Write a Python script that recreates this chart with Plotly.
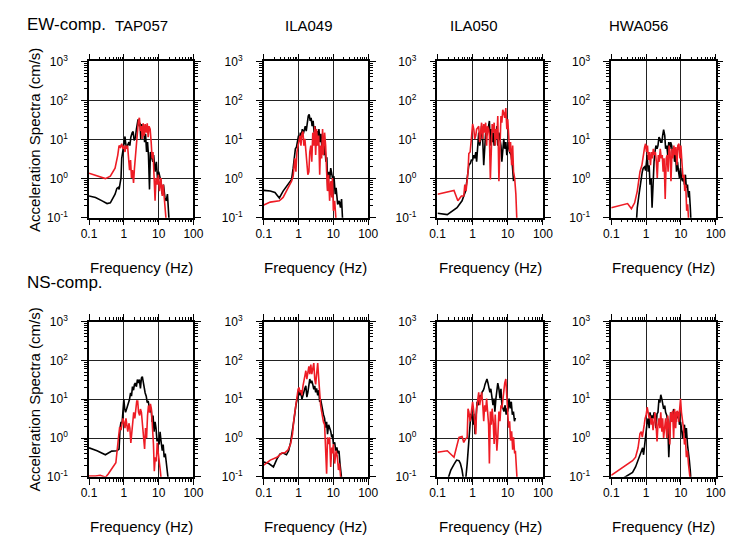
import plotly.graph_objects as go

# ---------------- DATA (frequency in Hz, spectral amplitude in cm/s) ----------------
stations = ["TAP057", "ILA049", "ILA050", "HWA056"]
components = ["EW-comp.", "NS-comp."]

x_tick_vals = [0.1, 1, 10, 100]
x_tick_text = ["0.1", "1", "10", "100"]
y_tick_vals = [0.1, 1, 10, 100, 1000]
y_tick_text = ["10<sup>-1</sup>", "10<sup>0</sup>", "10<sup>1</sup>", "10<sup>2</sup>", "10<sup>3</sup>"]

# EW TAP057
ew_tap057_blk_f = [0.1, 0.154, 0.238, 0.33, 0.41, 0.5, 0.56, 0.63, 0.7, 0.73, 0.78, 0.83, 0.87, 0.91, 0.99, 1.03, 1.08, 1.12, 1.2, 1.28, 1.4, 1.49, 1.59, 1.74, 1.85, 1.98, 2.16, 2.3, 2.45, 2.56, 2.74, 2.92, 3.06, 3.27, 3.5, 3.7, 3.95, 4.2, 4.5, 4.8, 5.1, 5.46, 5.8, 6.3, 6.8, 7.2, 7.9, 8.6, 9.4, 10.0, 10.9, 11.6, 12.7, 13.8, 15.1, 16.5, 17.9, 19.0, 20.0]
ew_tap057_blk_a = [0.36, 0.33, 0.27, 0.23, 0.24, 0.33, 0.4, 0.56, 0.6, 0.53, 0.7, 1.04, 3.3, 4.8, 7.0, 8.6, 12.0, 8.6, 5.8, 7.0, 8.6, 7.0, 11.5, 15.0, 16.0, 9.5, 11.5, 18.5, 30.0, 33.0, 22.0, 27.0, 10.4, 25.0, 15.0, 22.0, 8.6, 14.0, 4.8, 8.6, 4.0, 0.53, 4.8, 3.3, 2.7, 4.0, 1.5, 2.7, 0.86, 1.5, 1.04, 0.86, 0.4, 0.7, 0.33, 0.27, 0.4, 0.22, 0.08]
ew_tap057_red_f = [0.1, 0.295, 0.41, 0.56, 0.67, 0.73, 0.8, 0.87, 0.94, 1.0, 1.08, 1.15, 1.23, 1.28, 1.37, 1.46, 1.56, 1.66, 1.77, 1.9, 2.02, 2.16, 2.3, 2.45, 2.62, 2.8, 3.0, 3.2, 3.4, 3.6, 3.85, 4.1, 4.4, 4.7, 5.0, 5.3, 5.7, 6.1, 6.5, 6.9, 7.4, 7.9, 8.4, 9.1, 9.8, 10.6, 11.6, 12.7, 13.5, 14.4, 15.5, 16.5]
ew_tap057_red_a = [1.38, 1.0, 1.15, 1.85, 4.0, 7.0, 6.4, 7.8, 5.8, 7.0, 4.8, 7.0, 5.8, 7.0, 3.3, 1.65, 3.0, 1.04, 1.65, 0.78, 1.85, 4.0, 7.0, 22.0, 30.0, 36.0, 16.5, 22.0, 10.4, 26.0, 12.6, 25.0, 15.0, 26.0, 11.5, 22.0, 18.5, 8.6, 3.3, 4.8, 1.5, 0.27, 1.04, 0.7, 1.26, 0.48, 1.04, 0.36, 0.7, 0.27, 0.15, 0.08]

# EW ILA049
ew_ila049_blk_f = [0.1, 0.154, 0.21, 0.28, 0.36, 0.5, 0.63, 0.7, 0.75, 0.81, 0.87, 0.92, 1.0, 1.06, 1.13, 1.2, 1.28, 1.37, 1.46, 1.56, 1.66, 1.77, 1.9, 2.02, 2.16, 2.3, 2.45, 2.62, 2.8, 3.0, 3.2, 3.4, 3.6, 3.85, 4.1, 4.4, 4.7, 5.0, 5.3, 5.7, 6.1, 6.5, 6.9, 7.4, 7.9, 8.4, 9.1, 9.8, 10.4, 11.3, 12.0, 13.3, 14.7, 16.0, 17.2, 18.5]
ew_ila049_blk_a = [0.5, 0.48, 0.44, 0.32, 0.48, 0.7, 0.95, 1.85, 3.0, 5.8, 6.4, 8.6, 12.6, 10.4, 15.0, 12.6, 18.5, 14.0, 18.5, 22.0, 16.5, 27.0, 40.0, 44.0, 30.0, 36.0, 22.0, 30.0, 15.0, 22.0, 7.0, 16.5, 10.4, 18.5, 8.6, 14.0, 5.8, 10.4, 4.0, 7.0, 2.7, 3.5, 0.48, 1.5, 1.04, 1.85, 1.26, 0.86, 1.15, 0.4, 0.58, 0.22, 0.27, 0.18, 0.3, 0.08]
ew_ila049_red_f = [0.1, 0.154, 0.28, 0.36, 0.5, 0.63, 0.7, 0.75, 0.78, 0.84, 0.9, 0.97, 1.03, 1.1, 1.17, 1.25, 1.34, 1.42, 1.52, 1.62, 1.73, 1.85, 1.98, 2.1, 2.25, 2.4, 2.56, 2.74, 2.92, 3.1, 3.3, 3.55, 3.8, 4.05, 4.3, 4.6, 4.9, 5.2, 5.6, 6.0, 6.4, 6.8, 7.3, 7.8, 8.4, 9.0, 9.4, 10.0, 10.9, 12.0]
ew_ila049_red_a = [0.21, 0.25, 0.27, 0.33, 0.58, 0.86, 1.15, 1.85, 3.3, 1.5, 4.8, 7.0, 9.5, 12.6, 7.0, 14.0, 16.0, 7.0, 10.4, 4.8, 2.7, 1.26, 1.5, 4.8, 7.0, 2.7, 15.0, 7.0, 22.0, 4.0, 18.5, 7.0, 12.6, 1.26, 7.0, 3.3, 18.5, 4.0, 15.0, 7.0, 1.5, 0.48, 1.26, 0.27, 0.86, 0.33, 1.04, 0.15, 0.27, 0.08]

# EW ILA050
ew_ila050_blk_f = [0.1, 0.19, 0.36, 0.5, 0.63, 0.7, 0.78, 0.87, 0.92, 1.0, 1.08, 1.15, 1.23, 1.3, 1.4, 1.49, 1.59, 1.7, 1.8, 1.92, 2.07, 2.2, 2.35, 2.5, 2.65, 2.85, 3.0, 3.2, 3.4, 3.6, 3.85, 4.1, 4.4, 4.6, 4.9, 5.2, 5.6, 6.0, 6.4, 6.8, 7.2, 7.7, 8.2, 8.8, 9.4, 10.0, 10.6, 11.3, 12.5, 13.5, 14.6]
ew_ila050_blk_a = [0.13, 0.12, 0.18, 0.27, 0.48, 1.04, 2.2, 2.5, 3.0, 3.0, 4.0, 3.3, 4.8, 2.7, 7.0, 15.0, 7.0, 10.4, 22.0, 12.6, 2.2, 7.0, 15.0, 12.6, 15.0, 22.0, 30.0, 7.0, 18.5, 8.6, 15.0, 7.0, 12.6, 10.4, 22.0, 7.0, 15.0, 10.4, 7.0, 2.7, 4.8, 10.4, 5.8, 8.6, 4.0, 7.0, 8.6, 4.8, 4.0, 2.2, 0.86]
ew_ila050_red_f = [0.1, 0.154, 0.295, 0.38, 0.48, 0.56, 0.6, 0.65, 0.7, 0.74, 0.78, 0.85, 0.92, 1.0, 1.08, 1.15, 1.23, 1.3, 1.4, 1.49, 1.59, 1.7, 1.8, 1.92, 2.07, 2.2, 2.35, 2.5, 2.65, 2.85, 3.0, 3.2, 3.4, 3.6, 3.85, 4.1, 4.4, 4.6, 4.9, 5.2, 5.6, 6.0, 6.4, 6.8, 7.2, 7.7, 8.2, 8.8, 9.4, 10.0, 10.6, 11.3, 12.0, 12.9, 13.8, 14.6, 15.7, 17.0, 18.2]
ew_ila050_red_a = [0.4, 0.44, 0.5, 0.27, 0.36, 0.36, 0.7, 0.48, 1.04, 1.5, 4.4, 4.8, 10.4, 25.0, 18.5, 10.4, 12.6, 18.5, 20.0, 22.0, 8.6, 18.5, 27.0, 10.4, 25.0, 15.0, 27.0, 7.0, 22.0, 18.5, 12.6, 0.95, 7.0, 25.0, 15.0, 27.0, 7.0, 18.5, 10.4, 40.0, 0.86, 18.5, 40.0, 27.0, 58.0, 48.0, 36.0, 64.0, 18.5, 33.0, 15.0, 4.8, 8.6, 2.2, 7.0, 1.5, 1.04, 0.4, 0.08]

# EW HWA056
ew_hwa056_blk_f = [0.53, 0.56, 0.63, 0.7, 0.78, 0.83, 0.91, 0.97, 1.03, 1.08, 1.15, 1.23, 1.3, 1.4, 1.49, 1.59, 1.7, 1.8, 1.92, 2.07, 2.2, 2.35, 2.5, 2.65, 2.85, 3.0, 3.2, 3.45, 3.65, 3.95, 4.2, 4.5, 4.8, 5.1, 5.46, 5.8, 6.2, 6.6, 7.1, 7.5, 8.0, 8.6, 9.1, 9.8, 10.4, 11.2, 11.9, 12.7, 13.5, 14.4, 15.5, 16.5, 17.5, 18.7, 19.5]
ew_hwa056_blk_a = [0.08, 0.18, 0.4, 0.86, 1.5, 1.85, 2.0, 1.6, 3.3, 4.0, 1.5, 2.2, 0.7, 1.04, 0.18, 1.5, 2.7, 4.8, 7.0, 5.8, 7.0, 11.5, 10.4, 8.6, 8.6, 12.6, 18.0, 12.6, 5.8, 7.0, 4.0, 8.6, 5.8, 8.6, 7.0, 4.0, 5.8, 2.7, 4.0, 1.5, 2.7, 1.5, 1.04, 1.85, 1.04, 0.86, 1.04, 0.7, 1.26, 0.58, 0.7, 0.33, 0.48, 0.18, 0.08]
ew_hwa056_red_f = [0.1, 0.19, 0.295, 0.38, 0.47, 0.56, 0.67, 0.76, 0.83, 0.91, 0.97, 1.03, 1.1, 1.17, 1.25, 1.34, 1.43, 1.52, 1.62, 1.74, 1.85, 1.98, 2.1, 2.25, 2.4, 2.56, 2.74, 2.92, 3.1, 3.3, 3.55, 3.8, 4.05, 4.3, 4.6, 4.9, 5.2, 5.6, 5.9, 6.3, 6.8, 7.2, 7.7, 8.2, 8.8, 9.4, 10.0, 10.8, 11.5, 12.3, 12.9, 13.8, 14.7, 15.7, 16.8]
ew_hwa056_red_a = [0.18, 0.21, 0.23, 0.17, 0.24, 0.48, 1.5, 2.2, 4.0, 6.4, 7.8, 4.8, 7.0, 3.0, 4.8, 2.2, 4.8, 3.3, 5.8, 4.0, 4.8, 2.7, 1.04, 4.0, 2.7, 5.8, 3.3, 4.0, 1.5, 3.3, 0.3, 3.3, 4.0, 1.5, 7.0, 4.8, 0.86, 5.8, 3.3, 7.0, 4.0, 6.4, 2.2, 7.0, 7.8, 3.3, 7.0, 1.5, 1.04, 1.26, 0.48, 0.7, 0.15, 0.22, 0.08]

# NS TAP057
ns_tap057_blk_f = [0.1, 0.17, 0.295, 0.45, 0.63, 0.73, 0.78, 0.83, 0.89, 0.94, 1.0, 1.06, 1.12, 1.2, 1.28, 1.37, 1.46, 1.56, 1.66, 1.77, 1.9, 2.02, 2.16, 2.3, 2.45, 2.62, 2.8, 3.0, 3.2, 3.4, 3.6, 3.85, 4.1, 4.4, 4.7, 5.0, 5.3, 5.7, 6.1, 6.5, 6.9, 7.4, 7.9, 8.4, 9.0, 9.7, 10.3, 11.0, 11.6, 12.7, 13.5, 14.4, 15.5, 17.0, 17.9, 19.0]
ns_tap057_blk_a = [0.56, 0.47, 0.37, 0.46, 0.47, 0.52, 1.8, 2.6, 2.4, 4.6, 10.0, 5.6, 4.6, 5.6, 6.8, 8.2, 10.0, 14.5, 12.0, 21.0, 17.0, 24.0, 26.0, 21.0, 32.0, 26.0, 32.0, 19.0, 35.0, 38.0, 26.0, 17.0, 14.5, 12.0, 8.2, 9.0, 6.8, 4.6, 5.6, 2.6, 3.8, 1.45, 2.6, 1.8, 0.82, 1.0, 0.68, 1.45, 0.9, 0.47, 0.68, 0.32, 0.4, 0.18, 0.13, 0.08]
ns_tap057_red_f = [0.1, 0.154, 0.21, 0.26, 0.3, 0.36, 0.45, 0.59, 0.7, 0.76, 0.83, 0.89, 0.94, 1.0, 1.08, 1.15, 1.23, 1.3, 1.4, 1.49, 1.59, 1.7, 1.8, 1.92, 2.07, 2.2, 2.35, 2.5, 2.65, 2.85, 3.0, 3.2, 3.45, 3.65, 3.95, 4.2, 4.5, 4.8, 5.1, 5.46, 5.8, 6.2, 6.6, 7.1, 7.5, 8.0, 8.6, 9.1, 9.8, 10.4, 11.2, 11.9]
ns_tap057_red_a = [0.105, 0.105, 0.11, 0.1, 0.098, 0.12, 0.16, 0.23, 1.0, 1.9, 1.6, 2.6, 3.2, 2.6, 1.8, 3.2, 2.2, 1.45, 2.4, 1.8, 0.75, 1.45, 3.2, 4.6, 3.2, 5.6, 9.0, 9.0, 4.6, 3.8, 5.6, 4.6, 2.2, 1.0, 0.52, 1.8, 1.0, 3.8, 6.8, 4.6, 7.6, 5.6, 2.6, 0.68, 0.14, 0.32, 0.25, 0.75, 0.4, 0.28, 0.14, 0.08]

# NS ILA049
ns_ila049_blk_f = [0.1, 0.14, 0.19, 0.24, 0.295, 0.36, 0.45, 0.52, 0.59, 0.67, 0.75, 0.84, 0.92, 0.97, 1.03, 1.1, 1.17, 1.25, 1.34, 1.42, 1.52, 1.62, 1.73, 1.85, 1.98, 2.1, 2.25, 2.4, 2.56, 2.74, 2.92, 3.1, 3.3, 3.55, 3.8, 4.05, 4.3, 4.6, 4.9, 5.2, 5.6, 6.0, 6.4, 6.8, 7.3, 7.8, 8.4, 9.0, 9.4, 10.0, 10.9, 11.7, 12.6, 13.5, 14.5, 15.5, 16.5, 17.5]
ns_ila049_blk_a = [0.24, 0.22, 0.18, 0.29, 0.39, 0.41, 0.37, 0.47, 0.77, 1.5, 3.2, 7.0, 11.3, 15.0, 17.0, 12.6, 15.0, 10.0, 12.6, 17.0, 19.0, 22.0, 11.3, 15.0, 26.0, 33.0, 26.0, 30.0, 24.0, 18.0, 22.0, 15.0, 19.0, 12.6, 17.0, 8.5, 10.0, 7.0, 4.8, 4.0, 3.2, 1.85, 2.6, 1.25, 2.2, 1.85, 1.5, 1.04, 1.25, 0.7, 0.77, 0.47, 0.57, 0.4, 0.47, 0.22, 0.15, 0.08]
ns_ila049_red_f = [0.1, 0.154, 0.24, 0.33, 0.41, 0.5, 0.59, 0.67, 0.74, 0.83, 0.92, 0.97, 1.03, 1.1, 1.17, 1.25, 1.34, 1.42, 1.52, 1.62, 1.73, 1.85, 1.98, 2.1, 2.25, 2.4, 2.56, 2.74, 2.92, 3.1, 3.3, 3.55, 3.8, 4.05, 4.3, 4.6, 4.9, 5.2, 5.6, 6.0, 6.4, 6.8, 7.3, 7.8, 8.4, 9.0, 9.4, 10.0, 10.9, 12.0, 13.0, 14.0, 15.0, 16.5]
ns_ila049_red_a = [0.2, 0.27, 0.32, 0.41, 0.42, 0.5, 0.7, 1.25, 3.2, 7.0, 13.5, 18.0, 20.0, 15.0, 17.0, 12.6, 22.0, 33.0, 40.0, 54.0, 33.0, 48.0, 70.0, 44.0, 78.0, 44.0, 58.0, 85.0, 33.0, 24.0, 44.0, 85.0, 33.0, 10.0, 7.0, 4.8, 3.2, 2.6, 2.2, 0.47, 0.12, 1.04, 0.7, 1.04, 0.18, 0.57, 0.4, 0.7, 0.22, 0.47, 0.33, 0.15, 0.22, 0.08]

# NS ILA050
ns_ila050_blk_f = [0.2, 0.24, 0.295, 0.35, 0.41, 0.45, 0.5, 0.55, 0.6, 0.7, 0.78, 0.83, 0.89, 0.97, 1.03, 1.1, 1.17, 1.25, 1.34, 1.42, 1.52, 1.62, 1.73, 1.85, 1.98, 2.1, 2.25, 2.4, 2.56, 2.74, 2.92, 3.1, 3.3, 3.55, 3.8, 4.05, 4.3, 4.6, 4.9, 5.2, 5.6, 6.0, 6.4, 6.8, 7.3, 7.8, 8.4, 9.0, 9.4, 10.0, 10.9, 11.7, 12.6, 13.5, 14.5, 15.5, 16.5]
ns_ila050_blk_a = [0.09, 0.15, 0.21, 0.27, 0.26, 0.22, 0.15, 0.08, 0.05, 0.22, 1.04, 2.7, 4.2, 3.4, 2.2, 4.2, 1.25, 3.4, 8.6, 7.0, 10.4, 12.6, 10.4, 15.0, 16.5, 18.5, 24.0, 29.0, 33.0, 26.0, 20.0, 15.0, 18.5, 12.6, 7.0, 10.4, 4.8, 10.4, 15.0, 26.0, 18.5, 10.4, 18.5, 7.0, 5.8, 4.8, 7.0, 4.0, 5.8, 4.8, 10.4, 5.8, 8.6, 4.0, 4.8, 2.7, 3.3]
ns_ila050_red_f = [0.1, 0.19, 0.295, 0.41, 0.5, 0.56, 0.63, 0.7, 0.74, 0.78, 0.85, 0.92, 0.97, 1.0, 1.08, 1.15, 1.23, 1.3, 1.4, 1.49, 1.59, 1.7, 1.8, 1.92, 2.07, 2.2, 2.35, 2.5, 2.65, 2.85, 3.0, 3.2, 3.4, 3.6, 3.85, 4.1, 4.4, 4.6, 4.9, 5.2, 5.6, 6.0, 6.4, 6.8, 7.2, 7.7, 8.2, 8.8, 9.4, 10.0, 10.6, 11.3, 12.0, 12.9, 13.8, 14.6, 15.7, 16.5, 17.5, 18.5]
ns_ila050_red_a = [0.43, 0.47, 0.32, 1.04, 1.1, 0.77, 0.95, 1.04, 5.7, 4.8, 2.7, 4.8, 5.7, 8.6, 4.8, 2.7, 1.25, 5.7, 12.6, 15.0, 7.0, 12.6, 15.0, 8.6, 2.7, 7.0, 4.8, 10.4, 4.8, 2.2, 0.22, 4.8, 2.2, 5.7, 2.7, 0.7, 4.0, 1.04, 0.47, 1.04, 4.8, 2.7, 7.0, 5.8, 10.4, 15.0, 26.0, 33.0, 10.4, 4.8, 1.85, 2.7, 0.86, 1.5, 0.5, 1.04, 0.4, 0.47, 0.18, 0.08]

# NS HWA056
ns_hwa056_blk_f = [0.21, 0.295, 0.41, 0.5, 0.63, 0.73, 0.8, 0.85, 0.91, 0.97, 1.03, 1.08, 1.15, 1.23, 1.3, 1.4, 1.49, 1.59, 1.7, 1.8, 1.92, 2.07, 2.2, 2.35, 2.5, 2.65, 2.85, 3.0, 3.2, 3.45, 3.65, 3.95, 4.2, 4.5, 4.8, 5.1, 5.46, 5.8, 6.2, 6.6, 7.1, 7.5, 8.0, 8.6, 9.1, 9.8, 10.4, 11.2, 11.9, 12.7, 13.5, 14.4, 15.5, 16.5, 17.5, 18.7, 19.5]
ns_hwa056_blk_a = [0.09, 0.11, 0.13, 0.18, 0.32, 0.47, 0.56, 0.37, 0.68, 1.45, 2.2, 2.6, 3.2, 1.8, 4.6, 3.2, 3.8, 3.2, 4.6, 3.8, 1.8, 4.2, 4.6, 10.0, 8.2, 13.0, 10.0, 6.8, 5.6, 6.8, 4.6, 3.8, 2.6, 0.32, 2.2, 4.6, 3.8, 3.2, 5.6, 4.6, 2.6, 4.6, 3.2, 4.6, 2.2, 2.6, 1.8, 1.0, 1.45, 2.2, 1.0, 1.8, 0.68, 0.47, 0.27, 0.14, 0.08]
ns_hwa056_red_f = [0.1, 0.17, 0.295, 0.41, 0.5, 0.59, 0.67, 0.73, 0.78, 0.83, 0.89, 0.94, 1.0, 1.08, 1.15, 1.23, 1.3, 1.4, 1.49, 1.59, 1.7, 1.8, 1.92, 2.07, 2.2, 2.35, 2.5, 2.65, 2.85, 3.0, 3.2, 3.45, 3.65, 3.95, 4.2, 4.5, 4.8, 5.1, 5.46, 5.8, 6.2, 6.6, 7.1, 7.5, 8.0, 8.6, 9.1, 9.8, 10.4, 11.2, 11.9, 12.7, 13.5, 14.4, 15.5, 16.5, 17.5, 18.7]
ns_hwa056_red_a = [0.11, 0.15, 0.21, 0.26, 0.32, 0.56, 1.3, 1.45, 1.05, 1.8, 2.2, 3.2, 3.8, 6.2, 4.6, 3.2, 3.8, 2.2, 3.2, 1.6, 2.6, 4.6, 2.6, 0.82, 2.2, 3.2, 1.8, 4.6, 1.45, 3.2, 1.0, 1.8, 3.2, 1.0, 3.8, 2.2, 0.68, 4.6, 2.6, 5.0, 1.0, 5.6, 1.8, 4.6, 5.0, 2.6, 5.6, 10.3, 4.6, 2.6, 1.8, 0.68, 1.0, 0.32, 0.47, 0.22, 0.14, 0.08]

panels = [
    [(ew_tap057_blk_f, ew_tap057_blk_a, ew_tap057_red_f, ew_tap057_red_a),
     (ew_ila049_blk_f, ew_ila049_blk_a, ew_ila049_red_f, ew_ila049_red_a),
     (ew_ila050_blk_f, ew_ila050_blk_a, ew_ila050_red_f, ew_ila050_red_a),
     (ew_hwa056_blk_f, ew_hwa056_blk_a, ew_hwa056_red_f, ew_hwa056_red_a)],
    [(ns_tap057_blk_f, ns_tap057_blk_a, ns_tap057_red_f, ns_tap057_red_a),
     (ns_ila049_blk_f, ns_ila049_blk_a, ns_ila049_red_f, ns_ila049_red_a),
     (ns_ila050_blk_f, ns_ila050_blk_a, ns_ila050_red_f, ns_ila050_red_a),
     (ns_hwa056_blk_f, ns_hwa056_blk_a, ns_hwa056_red_f, ns_hwa056_red_a)],
]

# ---------------- LAYOUT ----------------
W, H = 753, 545
FONT = "Liberation Sans, Arial, Helvetica, sans-serif"
col_px = [(83, 190), (262, 369), (440, 548), (618, 725)]
row_px = [(54, 215), (322, 482)]

minor_x = [m * d for d in (0.1, 1, 10) for m in range(2, 10)]
minor_y = [m * d for d in (0.1, 1, 10, 100) for m in range(2, 10)]

fig = go.Figure()
layout = dict(
    width=W, height=H,
    margin=dict(l=0, r=0, t=0, b=0),
    paper_bgcolor="white", plot_bgcolor="white",
    showlegend=False,
    font=dict(family=FONT, color="black"),
)


def px_x(x):
    return x / W


def px_y(y):
    return 1 - y / H


def axname(prefix, n):
    return prefix if n == 1 else f"{prefix}{n}"


annotations = []
k = 0
for r in range(2):
    for c in range(4):
        k += 1
        xa, ya = axname("x", k), axname("y", k)
        # overlay axes (top / right) used only for mirrored major + minor ticks
        kt, kr = k + 8, k + 16
        xt, yr = axname("x", kt), axname("y", kr)

        bf, ba, rf, ra = panels[r][c]
        fig.add_trace(go.Scatter(x=bf, y=ba, mode="lines", line=dict(color="black", width=1.6),
                                 xaxis=xa, yaxis=ya, hoverinfo="skip"))
        fig.add_trace(go.Scatter(x=rf, y=ra, mode="lines", line=dict(color="#ee1c25", width=1.6),
                                 xaxis=xa, yaxis=ya, hoverinfo="skip"))
        # invisible traces so the overlay axes get drawn
        fig.add_trace(go.Scatter(x=[], y=[], xaxis=xt, yaxis=ya, hoverinfo="skip", showlegend=False))
        fig.add_trace(go.Scatter(x=[], y=[], xaxis=xa, yaxis=yr, hoverinfo="skip", showlegend=False))

        x0, x1 = col_px[c]
        y0, y1 = row_px[r]
        common = dict(
            type="log", showline=True, linecolor="black", linewidth=1.5,
            ticks="outside", ticklen=6, tickwidth=1.2, tickcolor="black",
            zeroline=False, fixedrange=True,
            tickfont=dict(family=FONT, size=12, color="black"),
        )
        minor_common = dict(tickmode="array", ticks="outside", ticklen=3, tickwidth=1,
                            tickcolor="black", showgrid=False)
        xdom = [px_x(x0), px_x(x1)]
        ydom = [px_y(y1), px_y(y0)]
        layout[axname("xaxis", k)] = dict(
            common, domain=xdom, anchor=ya, range=[-1, 2],
            showgrid=True, gridcolor="#222222", gridwidth=1.1,
            tickmode="array", tickvals=x_tick_vals, ticktext=x_tick_text,
            ticklabelstandoff=-2,
            minor=dict(minor_common, tickvals=minor_x),
        )
        layout[axname("yaxis", k)] = dict(
            common, domain=ydom, anchor=xa, range=[-1, 3],
            showgrid=True, gridcolor="#222222", gridwidth=1.1,
            tickmode="array", tickvals=y_tick_vals, ticktext=y_tick_text,
            ticklabelstandoff=11,
            minor=dict(minor_common, tickvals=minor_y),
        )
        layout[axname("xaxis", kt)] = dict(
            common, overlaying=xa, side="top", anchor=ya, range=[-1, 2],
            showgrid=False, showticklabels=False,
            tickmode="array", tickvals=x_tick_vals,
            minor=dict(minor_common, tickvals=minor_x),
        )
        layout[axname("yaxis", kr)] = dict(
            common, overlaying=ya, side="right", anchor=xa, range=[-1, 3],
            showgrid=False, showticklabels=False,
            tickmode="array", tickvals=y_tick_vals,
            minor=dict(minor_common, tickvals=minor_y),
        )
        # x-axis title
        annotations.append(dict(text="Frequency (Hz)", x=px_x((x0 + x1) / 2), y=px_y(y1 + 51),
                                xref="paper", yref="paper", xanchor="center", yanchor="middle",
                                showarrow=False, font=dict(size=15, family=FONT)))
        if c == 0:
            annotations.append(dict(text="Acceleration Spectra (cm/s)", x=px_x(27),
                                    y=px_y((y0 + y1) / 2), xref="paper", yref="paper",
                                    xanchor="center", yanchor="middle", textangle=-90,
                                    showarrow=False, font=dict(size=15, family=FONT)))

# station names
for name, cx in zip(stations, [137, 308, 477, 646]):
    annotations.append(dict(text=name, x=px_x(cx), y=px_y(17), xref="paper", yref="paper",
                            xanchor="center", yanchor="middle", showarrow=False,
                            font=dict(size=15, family=FONT)))
# component labels
for comp, cy in zip(components, [16, 282]):
    annotations.append(dict(text=comp, x=px_x(17), y=px_y(cy), xref="paper", yref="paper",
                            xanchor="left", yanchor="middle", showarrow=False,
                            font=dict(size=17, family=FONT)))

layout["annotations"] = annotations
fig.update_layout(**layout)
fig.write_html("out.html")
